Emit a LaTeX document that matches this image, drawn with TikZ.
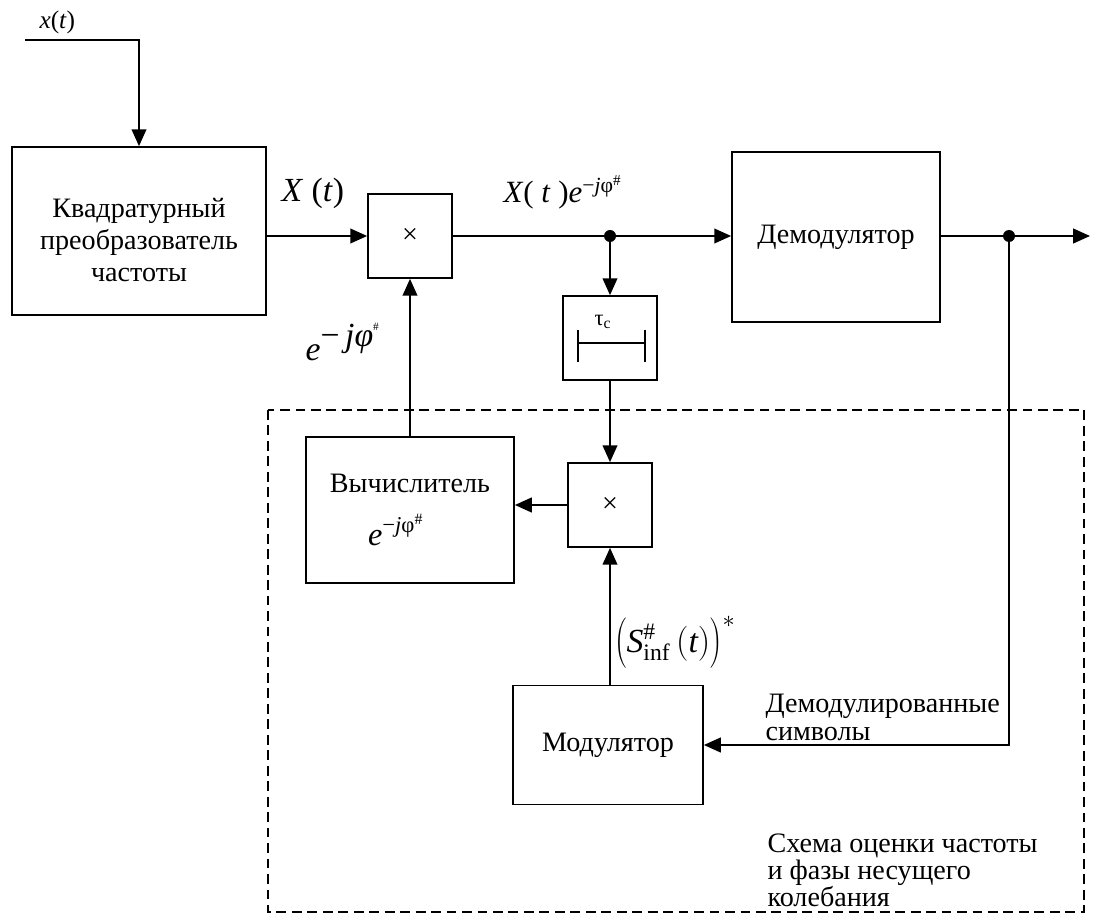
\documentclass[tikz,border=0pt]{standalone}
\usepackage{fontspec}
\setmainfont{Liberation Serif}
\usetikzlibrary{arrows.meta}

% exponent e^{-j phi#}
\newcommand{\ephase}{\textit{e}\textsuperscript{−\textit{j}φ\textsuperscript{\#}}}

\begin{document}
\begin{tikzpicture}[x=0.025cm, y=-0.025cm, line width=1.2pt,
    every node/.style={font=\fontsize{20}{22.7}\selectfont},
    block/.style={draw, line width=1.2pt, align=center, inner sep=0pt},
    arr/.style={-{Triangle[length=12pt,width=10.5pt]}}]
  \useasboundingbox (0,0) rectangle (1104,924);

  % blocks
  \node[block, minimum width=6.35cm, minimum height=4.2cm] (kvad) at (139,231) {\rule{0pt}{26pt}Квадратурный\\преобразователь\\частоты};
  \node[block, minimum width=2.1cm, minimum height=2.1cm] (mult1) at (410,236) {×};
  \node[block, minimum width=5.2cm, minimum height=4.25cm] (demod) at (836,237) {Демодулятор};
  \node[block, minimum width=2.35cm, minimum height=2.1cm] (delay) at (610,338) {};
  \node[block, minimum width=2.1cm, minimum height=2.1cm] (mult2) at (610,505) {×};
  \node[block, minimum width=5.2cm, minimum height=3.65cm] (vych) at (410,510)
    {Вычислитель\\[14pt]\hspace*{-20pt}{\fontsize{23}{26}\selectfont\ephase}};
  \node[block, minimum width=4.75cm, minimum height=2.975cm] (modul) at (608,745) {Модулятор};

  % delay symbol
  \node[font=\fontsize{16}{18}\selectfont] (tau) at (603,322) {τ\textsubscript{c}};
  \draw (578,343) -- (645,343);
  \draw (578,330) -- (578,362);
  \draw (645,330) -- (645,362);

  % branch points
  \coordinate (xin) at (25,40);
  \coordinate (j1) at (610,236);
  \coordinate (j2) at (1009,236);
  \coordinate (out) at (1090,236);
  \fill (j1) circle[radius=0.15cm];
  \fill (j2) circle[radius=0.15cm];

  % labels
  \node[anchor=base west, font=\fontsize{18}{20}\selectfont] (xlab) at (34,29) {\textit{x}(\textit{t})};
  \node[anchor=base west, font=\fontsize{24}{28}\selectfont] (Xlab) at (276,202) {\textit{X} (\textit{t})};
  \node[anchor=base west, font=\fontsize{22}{26}\selectfont] (Xelab) at (498,203) {\textit{X}( \textit{t} )\ephase};
  \node[anchor=base west, font=\fontsize{24}{28}\selectfont] (elab) at (300,361)
    {\textit{e}\raisebox{10pt}{−\,\textit{jφ}}\raisebox{22pt}{\fontsize{8}{8}\selectfont\#}};
  \node[anchor=base west, font=\fontsize{24}{28}\selectfont, inner sep=1pt] (slab) at (612,652)
    {$\left(\rule[-8pt]{0pt}{32pt}\mathit{S}^{\#}_{\mathrm{inf}}\,(\mathit{t})\right)^{*}$};
  \node[anchor=north west, align=left, font=\fontsize{20}{19.5}\selectfont] (dslab) at (760,689) {Демодулированные\\символы};
  \node[anchor=north west, align=left, font=\fontsize{20}{19.5}\selectfont] (schlab) at (762,828) {Схема оценки частоты\\и фазы несущего\\колебания};

  % connections
  \draw[arr] (xin) -| (kvad.north);
  \draw[arr] (kvad.east |- mult1) -- (mult1);
  \draw (mult1) -- (j1);
  \draw[arr] (j1) -- (j1 -| demod.west);
  \draw[arr] (j1) -- (delay);
  \draw[arr] (delay) -- (mult2);
  \draw[arr] (mult2) -- (mult2 -| vych.east);
  \draw[arr] (vych.north) -- (mult1.south);
  \draw (j2 -| demod.east) -- (j2);
  \draw[arr] (j2) -- (out);
  \draw[arr] (j2) |- (modul.east);
  \draw[arr] (modul.north -| mult2) -- (mult2.south);

  % estimator frame
  \draw[dashed, dash pattern=on 7pt off 4pt] (268,410) rectangle (1084,912);
\end{tikzpicture}
\end{document}
